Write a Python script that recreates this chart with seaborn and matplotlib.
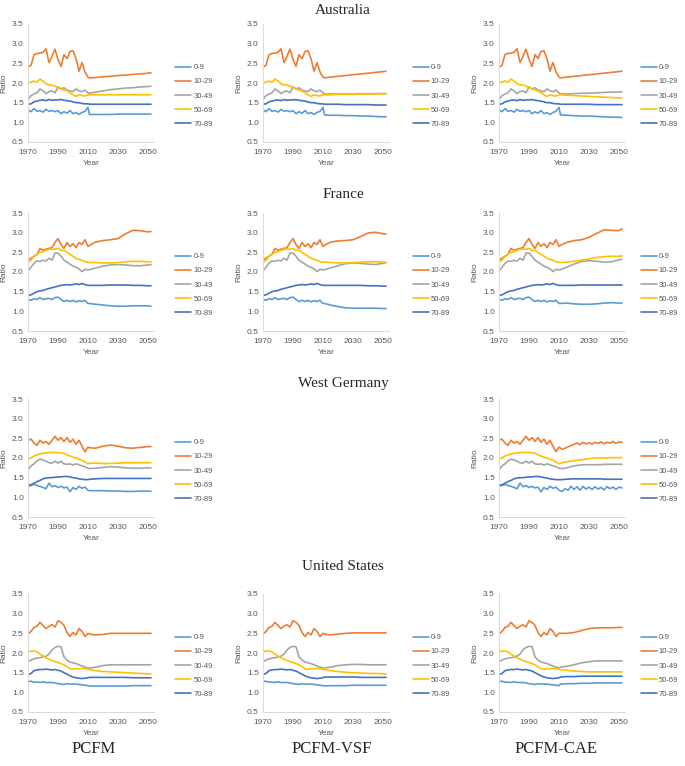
import pandas as pd
import numpy as np
import seaborn as sns
import matplotlib.pyplot as plt

groups = ["0-9", "10-29", "30-49", "50-69", "70-89"]
colors = ["#5B9BD5", "#ED7D31", "#A5A5A5", "#FFC000", "#4472C4"]
models = ["PCFM", "PCFM-VSF", "PCFM-CAE"]

years_hist = list(range(1970, 2011, 2))
years_fc = [2011, 2015, 2020, 2025, 2030, 2035, 2040, 2045, 2050, 2052]
years_fc_wg_cae = list(range(2012, 2053, 2))

# observed part (same in every model column)
aus_hist = {
    "0-9":   [1.32, 1.27, 1.35, 1.28, 1.30, 1.26, 1.33, 1.28, 1.30, 1.27, 1.30, 1.22, 1.27, 1.23, 1.30, 1.22, 1.25, 1.20, 1.25, 1.28, 1.38],
    "10-29": [2.40, 2.45, 2.72, 2.75, 2.76, 2.78, 2.87, 2.52, 2.68, 2.86, 2.60, 2.42, 2.72, 2.62, 2.80, 2.82, 2.62, 2.30, 2.52, 2.28, 2.15],
    "30-49": [1.58, 1.68, 1.72, 1.75, 1.85, 1.80, 1.73, 1.78, 1.80, 1.75, 1.90, 1.85, 1.88, 1.82, 1.80, 1.78, 1.85, 1.80, 1.78, 1.82, 1.75],
    "50-69": [2.00, 2.02, 2.05, 2.02, 2.10, 2.05, 1.98, 1.95, 1.95, 1.92, 1.88, 1.85, 1.82, 1.80, 1.75, 1.70, 1.66, 1.70, 1.68, 1.67, 1.70],
    "70-89": [1.46, 1.47, 1.52, 1.54, 1.56, 1.57, 1.55, 1.58, 1.56, 1.57, 1.57, 1.58, 1.56, 1.55, 1.54, 1.52, 1.50, 1.50, 1.48, 1.47, 1.47],
}
fra_hist = {
    "0-9":   [1.30, 1.28, 1.32, 1.30, 1.35, 1.30, 1.32, 1.33, 1.30, 1.35, 1.36, 1.30, 1.25, 1.28, 1.25, 1.28, 1.24, 1.27, 1.25, 1.28, 1.20],
    "10-29": [2.30, 2.35, 2.40, 2.45, 2.60, 2.55, 2.58, 2.60, 2.62, 2.75, 2.85, 2.70, 2.60, 2.75, 2.65, 2.72, 2.62, 2.75, 2.70, 2.82, 2.65],
    "30-49": [2.03, 2.12, 2.22, 2.28, 2.27, 2.30, 2.28, 2.35, 2.30, 2.48, 2.48, 2.40, 2.30, 2.25, 2.20, 2.15, 2.12, 2.08, 2.01, 2.07, 2.05],
    "50-69": [2.25, 2.30, 2.40, 2.45, 2.50, 2.52, 2.55, 2.58, 2.58, 2.58, 2.60, 2.55, 2.55, 2.50, 2.45, 2.40, 2.35, 2.32, 2.30, 2.26, 2.25],
    "70-89": [1.40, 1.42, 1.46, 1.50, 1.52, 1.53, 1.56, 1.58, 1.60, 1.62, 1.64, 1.66, 1.67, 1.68, 1.67, 1.68, 1.70, 1.68, 1.71, 1.68, 1.66],
}
wg_hist = {
    "0-9":   [1.33, 1.30, 1.33, 1.30, 1.28, 1.25, 1.22, 1.36, 1.27, 1.30, 1.25, 1.28, 1.24, 1.26, 1.14, 1.25, 1.20, 1.28, 1.23, 1.26, 1.18],
    "10-29": [2.45, 2.48, 2.38, 2.32, 2.45, 2.38, 2.42, 2.35, 2.45, 2.55, 2.45, 2.52, 2.42, 2.52, 2.40, 2.48, 2.35, 2.45, 2.30, 2.16, 2.28],
    "30-49": [1.70, 1.80, 1.85, 1.93, 1.97, 1.95, 1.92, 1.88, 1.87, 1.92, 1.87, 1.92, 1.85, 1.84, 1.85, 1.82, 1.85, 1.83, 1.80, 1.78, 1.74],
    "50-69": [1.97, 2.00, 2.05, 2.08, 2.10, 2.12, 2.13, 2.14, 2.14, 2.14, 2.14, 2.13, 2.12, 2.08, 2.05, 2.02, 2.00, 1.97, 1.94, 1.90, 1.85],
    "70-89": [1.28, 1.32, 1.36, 1.40, 1.43, 1.47, 1.49, 1.50, 1.50, 1.51, 1.52, 1.52, 1.53, 1.53, 1.52, 1.50, 1.49, 1.47, 1.46, 1.45, 1.45],
}
us_hist = {
    "0-9":   [1.28, 1.28, 1.26, 1.26, 1.25, 1.27, 1.25, 1.25, 1.25, 1.24, 1.22, 1.21, 1.20, 1.22, 1.21, 1.21, 1.21, 1.20, 1.19, 1.18, 1.17],
    "10-29": [2.48, 2.55, 2.65, 2.68, 2.78, 2.70, 2.62, 2.68, 2.72, 2.66, 2.82, 2.78, 2.70, 2.52, 2.42, 2.52, 2.46, 2.62, 2.55, 2.42, 2.50],
    "30-49": [1.78, 1.82, 1.85, 1.87, 1.88, 1.90, 1.92, 1.97, 2.08, 2.14, 2.17, 2.16, 1.90, 1.82, 1.77, 1.75, 1.73, 1.70, 1.67, 1.64, 1.62],
    "50-69": [2.03, 2.05, 2.05, 2.03, 1.97, 1.92, 1.88, 1.84, 1.81, 1.78, 1.76, 1.73, 1.70, 1.65, 1.60, 1.59, 1.60, 1.60, 1.61, 1.60, 1.59],
    "70-89": [1.45, 1.48, 1.55, 1.57, 1.58, 1.58, 1.59, 1.58, 1.57, 1.58, 1.56, 1.54, 1.50, 1.46, 1.42, 1.39, 1.37, 1.36, 1.35, 1.36, 1.37],
}

# forecasts
aus_pcfm = {
    "0-9":   [1.20, 1.20, 1.20, 1.20, 1.21, 1.21, 1.21, 1.21, 1.21, 1.21],
    "10-29": [2.13, 2.14, 2.16, 2.17, 2.19, 2.20, 2.22, 2.23, 2.25, 2.26],
    "30-49": [1.74, 1.77, 1.80, 1.83, 1.85, 1.87, 1.88, 1.90, 1.91, 1.92],
    "50-69": [1.70, 1.70, 1.70, 1.70, 1.70, 1.70, 1.70, 1.70, 1.70, 1.70],
    "70-89": [1.46, 1.46, 1.46, 1.46, 1.46, 1.46, 1.46, 1.46, 1.46, 1.46],
}
aus_vsf = {
    "0-9":   [1.19, 1.18, 1.18, 1.17, 1.17, 1.16, 1.16, 1.15, 1.14, 1.14],
    "10-29": [2.13, 2.15, 2.17, 2.19, 2.21, 2.23, 2.25, 2.27, 2.29, 2.30],
    "30-49": [1.72, 1.72, 1.72, 1.72, 1.72, 1.73, 1.73, 1.73, 1.73, 1.73],
    "50-69": [1.70, 1.70, 1.71, 1.71, 1.71, 1.72, 1.72, 1.72, 1.73, 1.73],
    "70-89": [1.46, 1.46, 1.46, 1.45, 1.45, 1.45, 1.45, 1.44, 1.44, 1.44],
}
aus_cae = {
    "0-9":   [1.19, 1.18, 1.17, 1.16, 1.16, 1.15, 1.14, 1.13, 1.13, 1.12],
    "10-29": [2.13, 2.15, 2.17, 2.19, 2.21, 2.23, 2.25, 2.27, 2.29, 2.30],
    "30-49": [1.72, 1.72, 1.73, 1.74, 1.74, 1.75, 1.76, 1.77, 1.77, 1.78],
    "50-69": [1.70, 1.69, 1.68, 1.67, 1.66, 1.65, 1.64, 1.63, 1.62, 1.62],
    "70-89": [1.46, 1.46, 1.46, 1.46, 1.46, 1.45, 1.45, 1.45, 1.45, 1.45],
}
fra_pcfm = {
    "0-9":   [1.20, 1.18, 1.16, 1.14, 1.13, 1.13, 1.14, 1.14, 1.14, 1.13],
    "10-29": [2.68, 2.76, 2.80, 2.82, 2.85, 2.97, 3.06, 3.05, 3.02, 3.03],
    "30-49": [2.06, 2.10, 2.15, 2.18, 2.19, 2.18, 2.16, 2.16, 2.18, 2.19],
    "50-69": [2.24, 2.24, 2.23, 2.23, 2.24, 2.26, 2.27, 2.27, 2.26, 2.26],
    "70-89": [1.66, 1.66, 1.66, 1.67, 1.67, 1.67, 1.66, 1.66, 1.65, 1.65],
}
fra_vsf = {
    "0-9":   [1.20, 1.16, 1.12, 1.09, 1.08, 1.08, 1.08, 1.08, 1.07, 1.07],
    "10-29": [2.68, 2.76, 2.79, 2.80, 2.82, 2.90, 2.99, 3.01, 2.97, 2.96],
    "30-49": [2.06, 2.10, 2.16, 2.21, 2.23, 2.22, 2.20, 2.19, 2.22, 2.24],
    "50-69": [2.25, 2.24, 2.23, 2.23, 2.24, 2.25, 2.26, 2.26, 2.25, 2.25],
    "70-89": [1.66, 1.66, 1.66, 1.66, 1.66, 1.66, 1.65, 1.65, 1.64, 1.64],
}
fra_cae = {
    "0-9":   [1.20, 1.21, 1.19, 1.18, 1.18, 1.19, 1.21, 1.22, 1.21, 1.21],
    "10-29": [2.68, 2.75, 2.80, 2.82, 2.88, 2.98, 3.07, 3.06, 3.05, 3.10],
    "30-49": [2.06, 2.12, 2.20, 2.27, 2.29, 2.27, 2.25, 2.26, 2.31, 2.32],
    "50-69": [2.24, 2.25, 2.27, 2.30, 2.33, 2.37, 2.39, 2.40, 2.40, 2.41],
    "70-89": [1.66, 1.66, 1.66, 1.67, 1.67, 1.67, 1.67, 1.67, 1.67, 1.67],
}
wg_pcfm = {
    "0-9":   [1.17, 1.17, 1.17, 1.16, 1.16, 1.15, 1.15, 1.16, 1.16, 1.15],
    "10-29": [2.26, 2.25, 2.30, 2.33, 2.30, 2.26, 2.25, 2.27, 2.29, 2.29],
    "30-49": [1.73, 1.74, 1.76, 1.78, 1.77, 1.75, 1.74, 1.74, 1.75, 1.75],
    "50-69": [1.87, 1.87, 1.86, 1.86, 1.87, 1.88, 1.88, 1.88, 1.88, 1.88],
    "70-89": [1.46, 1.47, 1.48, 1.48, 1.48, 1.48, 1.48, 1.48, 1.48, 1.48],
}
wg_cae = {
    "0-9":   [1.15, 1.22, 1.18, 1.28, 1.20, 1.27, 1.18, 1.28, 1.21, 1.26, 1.20, 1.27, 1.21, 1.25, 1.19, 1.27, 1.22, 1.26, 1.20, 1.26, 1.24],
    "10-29": [2.22, 2.25, 2.28, 2.32, 2.35, 2.38, 2.34, 2.40, 2.36, 2.39, 2.35, 2.40, 2.37, 2.41, 2.36, 2.40, 2.38, 2.42, 2.37, 2.41, 2.40],
    "30-49": [1.73, 1.74, 1.76, 1.78, 1.80, 1.81, 1.82, 1.83, 1.83, 1.83, 1.83, 1.83, 1.83, 1.83, 1.84, 1.84, 1.84, 1.84, 1.84, 1.84, 1.84],
    "50-69": [1.88, 1.90, 1.91, 1.92, 1.93, 1.94, 1.95, 1.96, 1.97, 1.98, 1.99, 2.00, 2.00, 2.00, 2.00, 2.00, 2.01, 2.01, 2.01, 2.01, 2.01],
    "70-89": [1.45, 1.46, 1.46, 1.47, 1.47, 1.47, 1.47, 1.47, 1.47, 1.47, 1.47, 1.47, 1.47, 1.47, 1.46, 1.46, 1.46, 1.46, 1.46, 1.46, 1.46],
}
us_pcfm = {
    "0-9":   [1.16, 1.16, 1.16, 1.16, 1.16, 1.16, 1.17, 1.17, 1.17, 1.17],
    "10-29": [2.48, 2.46, 2.47, 2.50, 2.50, 2.50, 2.50, 2.50, 2.50, 2.50],
    "30-49": [1.62, 1.64, 1.68, 1.70, 1.70, 1.70, 1.70, 1.70, 1.70, 1.70],
    "50-69": [1.58, 1.55, 1.53, 1.52, 1.51, 1.50, 1.49, 1.48, 1.47, 1.47],
    "70-89": [1.38, 1.38, 1.38, 1.38, 1.38, 1.38, 1.37, 1.37, 1.37, 1.37],
}
us_vsf = {
    "0-9":   [1.16, 1.17, 1.17, 1.17, 1.18, 1.18, 1.18, 1.18, 1.18, 1.18],
    "10-29": [2.48, 2.46, 2.48, 2.50, 2.51, 2.51, 2.51, 2.51, 2.51, 2.51],
    "30-49": [1.62, 1.64, 1.68, 1.70, 1.71, 1.71, 1.70, 1.70, 1.70, 1.70],
    "50-69": [1.58, 1.55, 1.53, 1.51, 1.50, 1.49, 1.48, 1.48, 1.47, 1.47],
    "70-89": [1.39, 1.39, 1.39, 1.39, 1.39, 1.38, 1.38, 1.38, 1.38, 1.38],
}
us_cae = {
    "0-9":   [1.21, 1.22, 1.22, 1.23, 1.23, 1.24, 1.24, 1.24, 1.24, 1.24],
    "10-29": [2.50, 2.50, 2.52, 2.57, 2.62, 2.64, 2.64, 2.64, 2.65, 2.65],
    "30-49": [1.64, 1.66, 1.70, 1.75, 1.78, 1.80, 1.80, 1.80, 1.80, 1.80],
    "50-69": [1.58, 1.56, 1.54, 1.53, 1.52, 1.52, 1.52, 1.52, 1.52, 1.52],
    "70-89": [1.39, 1.40, 1.40, 1.41, 1.41, 1.41, 1.41, 1.41, 1.41, 1.41],
}

rows = [
    ("Australia", aus_hist, [(aus_pcfm, years_fc), (aus_vsf, years_fc), (aus_cae, years_fc)]),
    ("France", fra_hist, [(fra_pcfm, years_fc), (fra_vsf, years_fc), (fra_cae, years_fc)]),
    ("West Germany", wg_hist, [(wg_pcfm, years_fc), None, (wg_cae, years_fc_wg_cae)]),
    ("United States", us_hist, [(us_pcfm, years_fc), (us_vsf, years_fc), (us_cae, years_fc)]),
]

sns.set_theme(style="white")
plt.rcParams["font.family"] = ["Liberation Sans", "DejaVu Sans"]

W, H = 685, 766
fig = plt.figure(figsize=(W / 100, H / 100), dpi=100)

col_x = [28, 263, 499]
leg_x = [1.17, 1.19, 1.125]
row_top = [24, 213, 399, 594]
title_y = [10, 195, 384, 566]
ax_w, ax_h = 126, 118
tick_col = "#595959"

for r, (country, hist, fcs) in enumerate(rows):
    fig.text(343 / W, 1 - title_y[r] / H, country, ha="center", va="center",
             family="Liberation Serif", fontsize=11)
    for c, fc in enumerate(fcs):
        if fc is None:
            continue
        fc_vals, fc_years = fc
        parts = []
        for g in groups:
            yrs = years_hist + fc_years
            vals = hist[g] + fc_vals[g]
            parts.append(pd.DataFrame({"Year": yrs, "Ratio": vals, "Group": g}))
        df = pd.concat(parts, ignore_index=True)

        ax = fig.add_axes([col_x[c] / W, 1 - (row_top[r] + ax_h) / H, ax_w / W, ax_h / H])
        sns.lineplot(data=df, x="Year", y="Ratio", hue="Group", hue_order=groups,
                     palette=colors, linewidth=1.2, ax=ax)
        ax.set_xlim(1970, 2054)
        ax.set_ylim(0.5, 3.5)
        ax.set_xticks([1970, 1990, 2010, 2030, 2050])
        ax.set_yticks(np.arange(0.5, 3.51, 0.5))
        ax.set_yticklabels([f"{v:.1f}" for v in np.arange(0.5, 3.51, 0.5)])
        ax.tick_params(axis="both", length=0, labelsize=6, colors=tick_col)
        ax.tick_params(axis="x", pad=5)
        ax.tick_params(axis="y", pad=3)
        ax.set_xlabel("Year", fontsize=6, color=tick_col, labelpad=3)
        ax.set_ylabel("Ratio", fontsize=6, color=tick_col, labelpad=3)
        for s in ["top", "right"]:
            ax.spines[s].set_visible(False)
        for s in ["left", "bottom"]:
            ax.spines[s].set_color("#d9d9d9")
            ax.spines[s].set_linewidth(0.7)

        handles, labels = ax.get_legend_handles_labels()
        leg = ax.legend(handles, labels, loc="center left", bbox_to_anchor=(leg_x[c], 0.39),
                        frameon=False, fontsize=5.5, handlelength=2.1, handletextpad=0.25,
                        labelspacing=0.9, borderaxespad=0, borderpad=0)
        for t in leg.get_texts():
            t.set_color(tick_col)

for c, name in enumerate(models):
    fig.text([94, 332, 556][c] / W, 1 - 749 / H, name, ha="center", va="center",
             family="Liberation Serif", fontsize=12)

fig.savefig("out.png", dpi=100)
